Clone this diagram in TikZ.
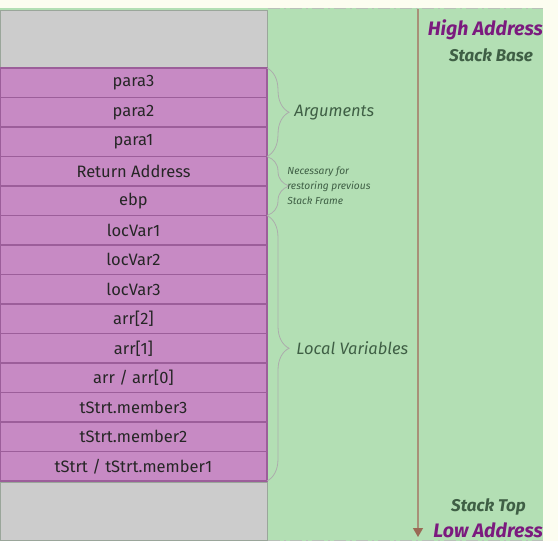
\documentclass[tikz,border=0pt]{standalone}
\usepackage{fontspec}
\setmainfont{Fira Sans}
\usepackage{tikz}
\usetikzlibrary{arrows.meta,decorations.pathreplacing}
\definecolor{paper}{HTML}{FCFDF0}
\definecolor{stackgreen}{HTML}{B3DFB4}
\definecolor{slotfill}{HTML}{C78AC4}
\definecolor{slotline}{HTML}{9C5E9A}
\definecolor{emptyfill}{HTML}{CCCCCC}
\definecolor{emptyline}{HTML}{9AA69A}
\definecolor{notegreen}{HTML}{3F5F45}
\definecolor{addrpurple}{HTML}{7B1A7E}
\definecolor{growline}{HTML}{A89078}
\definecolor{growhead}{HTML}{9A6A55}
\definecolor{bracegray}{HTML}{ACACAC}
\begin{document}
\begin{tikzpicture}[x={(1pt,0)},y={(0,-1pt)},
	slot/.style={draw=slotline,line width=1.2pt,fill=slotfill,minimum width=267pt,minimum height=29.5pt,inner sep=0pt,outer sep=0pt,font=\fontsize{16.5}{18}\selectfont,text=black!85},
	region/.style={decorate,decoration={brace,amplitude=22pt},draw=bracegray,line width=0.8pt},
	note/.style={font=\fontsize{16.5}{18}\selectfont\itshape,text=notegreen,inner sep=0pt,anchor=west},
	addr/.style={font=\fontsize{19.5}{21}\selectfont\bfseries\itshape,text=addrpurple,anchor=east,inner sep=0pt},
	stackend/.style={font=\fontsize{17}{19}\selectfont\bfseries\itshape,text=notegreen,inner sep=0pt}]
				\useasboundingbox (0,0) rectangle (558,541);
				\fill[paper] (0,0) rectangle (558,541);
				\fill[stackgreen] (0,8) rectangle (543,541);
				\draw[emptyline!70,line width=0.9pt,dash pattern=on 12pt off 4pt on 2pt off 4pt] (268,8.5) -- (543,8.5);
				\draw[emptyline!70,line width=0.9pt,dash pattern=on 12pt off 4pt on 2pt off 4pt] (268,540.5) -- (543,540.5);

				\draw [draw=emptyline,fill=emptyfill,line width=0.8pt] (0,10) rectangle (267,68);
				\draw [draw=emptyline,fill=emptyfill,line width=0.8pt] (0,482) rectangle (267,540);
				\foreach \name [count=\i] in {para3,para2,para1,Return Address,ebp,locVar1,locVar2,locVar3,arr[2],arr[1],arr / arr[0],tStrt.member3,tStrt.member2,tStrt / tStrt.member1}
				\node[slot] (r\i) at (133.5,{68+29.5*(\i-0.5)}) {\name};

				\draw[region] (r1.north east) -- node[note,right=27pt] (args) {Arguments} (r3.south east);
				\draw[region] (r4.north east) -- node[note,right=20pt,font=\fontsize{10.2}{15}\selectfont\itshape,align=left] (frame) {Necessary for\\restoring previous\\Stack Frame} (r5.south east);
				\draw[region] (r6.north east) -- node[note,right=29pt] (locals) {Local Variables} (r14.south east);

				\coordinate (growtop) at (418,9);
				\coordinate (growbot) at (418,537);
				\draw[growline,line width=1.3pt,-{Triangle[length=9pt,width=10pt,color=growhead]}] (growtop) -- (growbot);

				\node[addr] (high) at (543,30) {High Address};
				\node[stackend] (base) at (491,55) {Stack Base};
				\node[stackend] (stacktop) at (488.5,507) {Stack Top};
				\node[addr] (low) at (543,530) {Low Address};

			\end{tikzpicture}
\end{document}
